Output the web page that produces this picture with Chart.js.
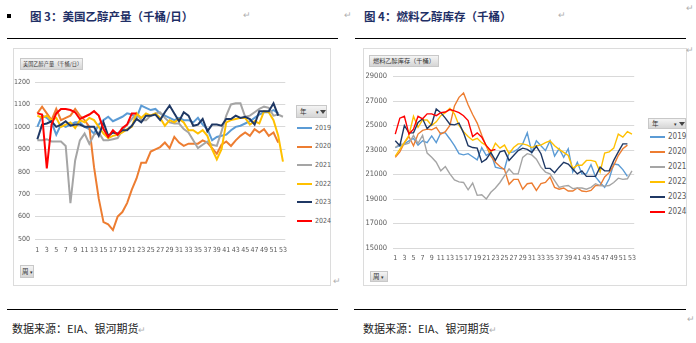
<!DOCTYPE html>
<html>
<head>
<meta charset="utf-8">
<script src="https://cdn.jsdelivr.net/npm/chart.js@4/dist/chart.umd.min.js"></script>
<style>
  body { margin: 0; width: 696px; height: 343px; background: #fff; position: relative; overflow: hidden; font-family: "Noto Sans CJK SC", sans-serif; }
  .abs { position: absolute; white-space: nowrap; }
  .head { font-size: 11.5px; font-weight: bold; color: #1f2f66; line-height: 14px; }
  .mark { font-size: 9px; color: #b0b0b0; line-height: 10px; }
  .rule { position: absolute; height: 1px; background: #000; }
  .box { position: absolute; border: 1px solid #dcdcdc; box-sizing: border-box; }
  .btn { position: absolute; box-sizing: border-box; border: 1px solid #c8c8c8; background: linear-gradient(#f4f4f4, #d6d6d6); color: #333; white-space: nowrap; }
  .foot { font-size: 11px; color: #222; line-height: 13px; }
  .leg { position: absolute; font-family: "Liberation Sans Narrow", "DejaVu Sans Condensed", sans-serif; color: #595959; }
  .funnel { display: inline-block; width: 0; height: 0; border-left: 3px solid transparent; border-right: 3px solid transparent; border-top: 4px solid #444; vertical-align: middle; }
  canvas { position: absolute; }
</style>
</head>
<body>
<!-- headers -->
<div class="abs" style="left:7px;top:14px;width:4px;height:4px;background:#000;"></div>
<div class="abs head" style="left:30px;top:9px;">图 3：美国乙醇产量（千桶/日）</div>
<div class="abs mark" style="left:243px;top:10px;">↵</div>
<div class="abs mark" style="left:344px;top:10px;">↵</div>
<div class="abs head" style="left:364px;top:9px;">图 4：燃料乙醇库存（千桶）</div>
<div class="abs mark" style="left:558px;top:10px;">↵</div>
<div class="abs mark" style="left:686px;top:3px;">↵</div>
<div class="rule" style="left:7px;top:38px;width:331px;"></div>
<div class="rule" style="left:355px;top:38px;width:331px;"></div>

<!-- chart frames -->
<div class="box" style="left:13px;top:48px;width:318px;height:238px;"></div>
<div class="box" style="left:363px;top:48px;width:324px;height:238px;"></div>
<div class="btn" style="left:20px;top:58px;width:63px;height:12px;font-size:5.2px;line-height:10px;padding-left:2px;">美国乙醇产量（千桶/日）</div>
<div class="btn" style="left:369px;top:55px;width:70px;height:12px;font-size:6.2px;line-height:10px;padding-left:3px;">燃料乙醇库存（千桶）</div>
<div class="btn" style="left:296px;top:105px;width:31px;height:13px;font-size:6.5px;line-height:11px;padding-left:3px;">年<span style="position:absolute;left:19px;top:0;font-size:5px;">▾</span><span class="funnel" style="position:absolute;left:23px;top:4px;"></span></div>
<div class="btn" style="left:648px;top:118px;width:38px;height:11px;font-size:6.5px;line-height:9px;padding-left:3px;">年<span style="position:absolute;left:25px;top:0;font-size:5px;">▾</span><span class="funnel" style="position:absolute;left:30px;top:3px;"></span></div>
<div class="btn" style="left:20px;top:265px;width:14px;height:13px;font-size:6.5px;line-height:11px;padding-left:1px;">周<span style="font-size:5px;"> ▾</span></div>
<div class="btn" style="left:370px;top:271px;width:18px;height:11px;font-size:6.5px;line-height:9px;padding-left:2px;">周<span style="font-size:5px;"> ▾</span></div>
<div class="abs mark" style="left:333px;top:276px;">↵</div>
<div class="abs mark" style="left:686px;top:45px;">↵</div>

<canvas id="prod" width="280" height="187" style="left:14px;top:70px;"></canvas>
<canvas id="stock" width="279" height="198" style="left:363px;top:66px;"></canvas>
<div id="legProd"></div>
<div id="legStock"></div>

<!-- footers -->
<div class="rule" style="left:7px;top:309px;width:331px;"></div>
<div class="rule" style="left:354px;top:309px;width:332px;"></div>
<div class="abs foot" style="left:12px;top:322px;">数据来源：EIA、银河期货<span class="mark">↵</span></div>
<div class="abs foot" style="left:363px;top:322px;">数据来源：EIA、银河期货<span class="mark">↵</span></div>
<div class="abs mark" style="left:687px;top:314px;">↵</div>

<script>
// weeks 1..53 and the year series
const weeks = Array.from({ length: 53 }, (_, i) => String(i + 1));
const years = ['2019', '2020', '2021', '2022', '2023', '2024'];
const colors = ['#5b9bd5', '#ed7d31', '#a5a5a5', '#ffc000', '#1f3864', '#ff0000'];

// US ethanol production, thousand barrels/day
const prod2019 = [1000,1050,1040,1020,965,1010,1000,1010,1020,1020,1000,990,970,1010,1030,1045,1025,1035,1045,1060,1055,1040,1095,1085,1075,1080,1060,1050,1040,1030,1040,1030,1030,1020,1040,1010,990,940,955,960,965,985,1000,1005,1015,1025,1040,1055,1065,1065,1075,1060,null];
const prod2020 = [1060,1090,1060,1030,1080,1030,1040,1050,1080,1050,1030,1000,820,680,575,565,540,600,620,660,720,770,840,840,890,900,910,930,905,955,930,915,925,925,925,940,930,905,880,920,935,915,940,960,975,960,990,975,990,960,975,930,null];
const prod2021 = [940,940,945,935,935,935,915,660,850,940,970,925,965,975,940,940,945,950,985,1010,1035,1060,1030,1030,1050,1060,1065,1040,1020,1015,1015,990,975,940,905,920,935,920,915,980,1050,1100,1105,1105,1045,1050,1065,1080,1090,1085,1050,1055,1045];
const prod2022 = [1050,1040,1050,1030,1040,1000,1010,1020,995,1030,1020,1040,1030,1000,970,950,960,965,975,990,1000,1060,1040,1060,1050,1060,1040,1005,1030,1020,1035,1020,985,985,970,985,960,900,855,900,1020,1030,1035,1040,1040,1010,1025,1015,1070,1065,1030,960,845];
const prod2023 = [945,1010,1015,1025,1000,1010,1025,1005,1010,1010,1000,1000,1000,960,1020,960,975,970,985,985,1005,1035,1020,1050,1050,1055,1030,1065,1095,1060,1025,1065,1050,1005,1010,1035,980,1010,1010,1005,1035,1035,1050,1040,1045,1035,1010,1070,1070,1070,1105,1050,null];
const prod2024 = [1060,1055,815,1010,1060,1080,1080,1075,1065,1035,1045,1055,1070,1050,990,955,985,965,995,1010,1060,1060];

// fuel ethanol stocks, thousand barrels
const stock2019 = [23200,23350,23500,23750,23950,23400,23750,23600,24150,23600,24400,24400,23900,23350,22700,22600,22700,22450,22200,23200,22550,22800,21600,21500,21450,22800,22850,23100,23500,24400,22800,23750,23350,22950,23750,22500,23100,22400,23100,21200,22000,21050,21050,21800,20800,20350,19950,20650,21850,21800,21400,20850,null];
const stock2020 = [22400,22850,23600,24100,23350,24300,24600,24700,24650,24850,24300,24500,25000,26600,27300,27650,26700,25900,25200,24200,23300,22500,22000,21650,21400,20200,20600,20600,19800,20250,20300,19700,20250,20350,20800,19950,19800,19900,19650,19650,19900,19650,19600,19700,20100,20100,20800,21150,21750,22550,23100,23400,null];
const stock2021 = [23200,23500,23450,23550,24200,23550,24200,22750,22400,22000,21300,21650,21050,20550,20400,20350,19750,20300,19300,19350,19000,19550,19900,20350,20900,21450,21050,21050,22400,22700,22600,22250,21600,21200,21050,20500,19950,20050,20100,19850,19900,19900,19800,19950,20250,20100,20050,20100,20350,20700,20600,20650,21300];
const stock2022 = [22500,23050,23600,24200,25750,24850,25450,25450,25000,25300,25800,26050,26400,25950,25000,24500,24100,23800,23950,23600,23350,22750,23550,23150,23400,22700,23200,23500,23500,23400,23200,23350,23400,23600,23750,23350,23050,22800,22550,21500,21750,21750,22150,22150,22050,21200,22750,22850,23150,24300,24050,24500,24300];
const stock2023 = [23750,23350,25000,24400,24400,25250,25550,24750,25100,26350,26050,25600,25100,25050,25200,24400,23350,23200,23150,22000,22250,22800,22150,22850,22950,22150,22550,22950,23150,23050,22800,23300,22700,21500,21500,21150,21600,22000,21850,21450,21050,21300,20850,20850,20850,21600,21300,21300,22150,22850,23500,23500,null];
const stock2024 = [24300,25600,25750,24300,24700,25750,25550,25950,25950,25800,26050,26100,26300,26200,26050,25800,25400,24100,24400,24050,23350,22950,23050];

const prodSeries = [prod2019, prod2020, prod2021, prod2022, prod2023, prod2024];
const stockSeries = [stock2019, stock2020, stock2021, stock2022, stock2023, stock2024];

const tickFont = '"Liberation Sans Narrow", "DejaVu Sans Condensed", "Liberation Sans", sans-serif';

function makeChart(id, series, opts) {
  return new Chart(document.getElementById(id), {
    type: 'line',
    data: {
      labels: weeks,
      datasets: series.map((d, i) => ({
        label: years[i],
        data: d,
        borderColor: colors[i],
        backgroundColor: colors[i],
        borderWidth: opts.lineWidth,
        pointRadius: 0,
        tension: 0,
        order: years.length - i   // newest year on top
      }))
    },
    options: {
      responsive: false,
      animation: false,
      devicePixelRatio: 1,
      layout: { padding: opts.padding },
      plugins: { legend: { display: false }, tooltip: { enabled: false } },
      scales: {
        x: {
          offset: true,
          grid: { display: false, drawTicks: false },
          border: { display: false },
          ticks: {
            autoSkip: false, maxRotation: 0, minRotation: 0,
            color: '#595959', padding: opts.xPad,
            font: { family: tickFont, size: opts.xFont },
            callback: (v, i) => (i % 2 === 0 ? weeks[i] : '')
          },
          afterFit: s => { s.height = opts.xHeight; }
        },
        y: {
          min: opts.min, max: opts.max,
          grid: { color: '#d9d9d9', drawTicks: false },
          border: { display: false },
          ticks: {
            stepSize: opts.step, color: '#595959', padding: opts.yPad,
            font: { family: tickFont, size: opts.yFont },
            callback: v => String(v)
          },
          afterFit: s => { s.width = opts.yWidth; }
        }
      }
    }
  });
}

makeChart('prod', prodSeries, {
  lineWidth: 2, padding: { top: 12, right: 5, left: 0, bottom: 0 },
  min: 500, max: 1200, step: 100,
  xPad: 7, xFont: 7, xHeight: 18, yPad: 5, yFont: 7, yWidth: 21
});

makeChart('stock', stockSeries, {
  lineWidth: 1.4, padding: { top: 10, right: 4, left: 0, bottom: 0 },
  min: 15000, max: 29000, step: 2000,
  xPad: 6, xFont: 7, xHeight: 16, yPad: 6, yFont: 7.5, yWidth: 30
});

// legends built from the same year list
function legend(id, x, y0, gap, lineW, font, thick) {
  const el = document.getElementById(id);
  years.forEach((yr, i) => {
    const top = y0 + i * gap;
    el.insertAdjacentHTML('beforeend',
      `<div class="leg" style="left:${x}px;top:${top - thick / 2}px;width:${lineW}px;height:${thick}px;background:${colors[i]};"></div>` +
      `<div class="leg" style="left:${x + lineW + 3}px;top:${top - font * 0.6}px;font-size:${font}px;line-height:${font * 1.2}px;">${yr}</div>`);
  });
}
legend('legProd', 297, 128, 18.6, 15, 7, 2);
legend('legStock', 650, 137, 15, 15, 8, 1.6);
</script>
</body>
</html>
